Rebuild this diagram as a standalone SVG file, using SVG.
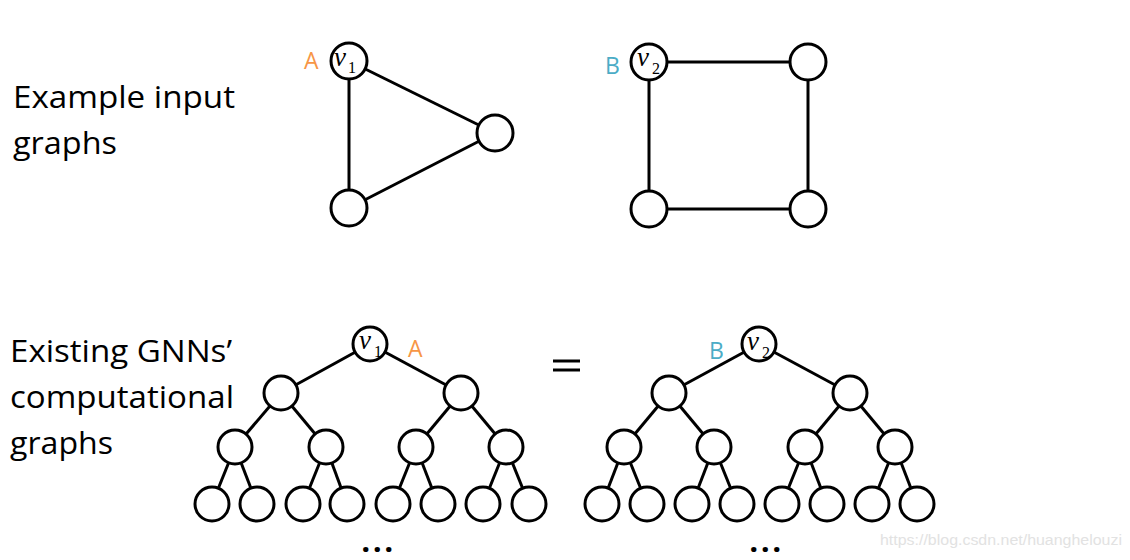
<svg xmlns="http://www.w3.org/2000/svg" width="1130" height="560" viewBox="0 0 1130 560">
<style>
.lbl{font-family:"Open Sans","Noto Sans","Liberation Sans",sans-serif;font-size:31px;fill:#000}
.n{fill:#fff;stroke:#000;stroke-width:3}
.e{stroke:#000;stroke-width:3;fill:none}
.v{font-family:"Liberation Serif","DejaVu Serif",serif;font-style:italic;font-size:27px;fill:#000}
.sub{font-family:"Liberation Serif","DejaVu Serif",serif;font-size:16px;fill:#000}
.A{font-family:"Open Sans","Liberation Sans",sans-serif;font-size:23px;fill:#F79646}
.B{font-family:"Open Sans","Liberation Sans",sans-serif;font-size:23px;fill:#4BACC6}
.dots{font-family:"Open Sans","Liberation Sans",sans-serif;font-size:26px;font-weight:800;letter-spacing:4px;fill:#000}
</style>
<rect width="1130" height="560" fill="#fff"/>
<g id="labels">
<text class="lbl" x="13" y="108" textLength="222" lengthAdjust="spacingAndGlyphs">Example input</text>
<text class="lbl" x="13" y="154" textLength="104" lengthAdjust="spacingAndGlyphs">graphs</text>
<text class="lbl" x="10" y="362" textLength="222" lengthAdjust="spacingAndGlyphs">Existing GNNs’</text>
<text class="lbl" x="10" y="408" textLength="224" lengthAdjust="spacingAndGlyphs">computational</text>
<text class="lbl" x="10" y="454" textLength="103" lengthAdjust="spacingAndGlyphs">graphs</text>
</g>
<g id="connectors">
<line class="e" x1="349" y1="61" x2="495" y2="133"/>
<line class="e" x1="349" y1="61" x2="349" y2="208"/>
<line class="e" x1="349" y1="208" x2="495" y2="133"/>
<line class="e" x1="649" y1="62" x2="808" y2="62"/>
<line class="e" x1="649" y1="62" x2="649" y2="209"/>
<line class="e" x1="808" y1="62" x2="808" y2="209"/>
<line class="e" x1="649" y1="209" x2="808" y2="209"/>
<line class="e" x1="370" y1="344" x2="281" y2="393"/>
<line class="e" x1="370" y1="344" x2="461" y2="393"/>
<line class="e" x1="281" y1="393" x2="235" y2="447"/>
<line class="e" x1="281" y1="393" x2="326" y2="447"/>
<line class="e" x1="461" y1="393" x2="416" y2="447"/>
<line class="e" x1="461" y1="393" x2="506" y2="447"/>
<line class="e" x1="235" y1="447" x2="212" y2="504"/>
<line class="e" x1="235" y1="447" x2="257" y2="504"/>
<line class="e" x1="326" y1="447" x2="303" y2="504"/>
<line class="e" x1="326" y1="447" x2="347" y2="504"/>
<line class="e" x1="416" y1="447" x2="393" y2="504"/>
<line class="e" x1="416" y1="447" x2="438" y2="504"/>
<line class="e" x1="506" y1="447" x2="483" y2="504"/>
<line class="e" x1="506" y1="447" x2="529" y2="504"/>
<line class="e" x1="759" y1="344" x2="669" y2="393"/>
<line class="e" x1="759" y1="344" x2="850" y2="393"/>
<line class="e" x1="669" y1="393" x2="624" y2="447"/>
<line class="e" x1="669" y1="393" x2="714" y2="447"/>
<line class="e" x1="850" y1="393" x2="805" y2="447"/>
<line class="e" x1="850" y1="393" x2="895" y2="447"/>
<line class="e" x1="624" y1="447" x2="602" y2="504"/>
<line class="e" x1="624" y1="447" x2="647" y2="504"/>
<line class="e" x1="714" y1="447" x2="692" y2="504"/>
<line class="e" x1="714" y1="447" x2="737" y2="504"/>
<line class="e" x1="805" y1="447" x2="782" y2="504"/>
<line class="e" x1="805" y1="447" x2="827" y2="504"/>
<line class="e" x1="895" y1="447" x2="872" y2="504"/>
<line class="e" x1="895" y1="447" x2="917" y2="504"/>
</g>
<g id="graphA">
<g id="a-v1"><circle class="n" cx="349" cy="61" r="18"/><text class="v" x="334" y="66">v</text><text class="sub" x="348" y="73">1</text></g>
<g id="a-n2"><circle class="n" cx="495" cy="133" r="18"/></g>
<g id="a-n3"><circle class="n" cx="349" cy="208" r="18"/></g>
<text class="A" x="304" y="69">A</text>
</g>
<g id="graphB">
<g id="b-v2"><circle class="n" cx="649" cy="62" r="18"/><text class="v" x="637" y="66">v</text><text class="sub" x="652" y="74">2</text></g>
<g id="b-n2"><circle class="n" cx="808" cy="62" r="18"/></g>
<g id="b-n3"><circle class="n" cx="649" cy="209" r="18"/></g>
<g id="b-n4"><circle class="n" cx="808" cy="209" r="18"/></g>
<text class="B" x="605" y="74">B</text>
</g>
<g id="treeA">
<g id="ta-root"><circle class="n" cx="370" cy="344" r="17"/><text class="v" x="359" y="349">v</text><text class="sub" x="374" y="357">1</text></g>
<g id="ta-l1a"><circle class="n" cx="281" cy="393" r="17"/></g>
<g id="ta-l1b"><circle class="n" cx="461" cy="393" r="17"/></g>
<g id="ta-l2a"><circle class="n" cx="235" cy="447" r="17"/></g>
<g id="ta-l2b"><circle class="n" cx="326" cy="447" r="17"/></g>
<g id="ta-l2c"><circle class="n" cx="416" cy="447" r="17"/></g>
<g id="ta-l2d"><circle class="n" cx="506" cy="447" r="17"/></g>
<g id="ta-l3a"><circle class="n" cx="212" cy="504" r="17"/></g>
<g id="ta-l3b"><circle class="n" cx="257" cy="504" r="17"/></g>
<g id="ta-l3c"><circle class="n" cx="303" cy="504" r="17"/></g>
<g id="ta-l3d"><circle class="n" cx="347" cy="504" r="17"/></g>
<g id="ta-l3e"><circle class="n" cx="393" cy="504" r="17"/></g>
<g id="ta-l3f"><circle class="n" cx="438" cy="504" r="17"/></g>
<g id="ta-l3g"><circle class="n" cx="483" cy="504" r="17"/></g>
<g id="ta-l3h"><circle class="n" cx="529" cy="504" r="17"/></g>
<text class="A" x="408" y="357">A</text>
<text class="dots" x="362" y="552">...</text>
</g>
<g id="equals">
<line x1="553" y1="361" x2="580" y2="361" stroke="#000" stroke-width="3"/>
<line x1="553" y1="370" x2="580" y2="370" stroke="#000" stroke-width="3"/>
</g>
<g id="treeB">
<g id="tb-root"><circle class="n" cx="759" cy="344" r="17"/><text class="v" x="747" y="350">v</text><text class="sub" x="762" y="358">2</text></g>
<g id="tb-l1a"><circle class="n" cx="669" cy="393" r="17"/></g>
<g id="tb-l1b"><circle class="n" cx="850" cy="393" r="17"/></g>
<g id="tb-l2a"><circle class="n" cx="624" cy="447" r="17"/></g>
<g id="tb-l2b"><circle class="n" cx="714" cy="447" r="17"/></g>
<g id="tb-l2c"><circle class="n" cx="805" cy="447" r="17"/></g>
<g id="tb-l2d"><circle class="n" cx="895" cy="447" r="17"/></g>
<g id="tb-l3a"><circle class="n" cx="602" cy="504" r="17"/></g>
<g id="tb-l3b"><circle class="n" cx="647" cy="504" r="17"/></g>
<g id="tb-l3c"><circle class="n" cx="692" cy="504" r="17"/></g>
<g id="tb-l3d"><circle class="n" cx="737" cy="504" r="17"/></g>
<g id="tb-l3e"><circle class="n" cx="782" cy="504" r="17"/></g>
<g id="tb-l3f"><circle class="n" cx="827" cy="504" r="17"/></g>
<g id="tb-l3g"><circle class="n" cx="872" cy="504" r="17"/></g>
<g id="tb-l3h"><circle class="n" cx="917" cy="504" r="17"/></g>
<text class="B" x="709" y="359">B</text>
<text class="dots" x="750" y="552">...</text>
</g>
<text x="880" y="545" font-family="Liberation Sans, Arial, sans-serif" font-size="14" fill="#e2e2e2" textLength="242" lengthAdjust="spacingAndGlyphs">https://blog.csdn.net/huanghelouzi</text>
</svg>
